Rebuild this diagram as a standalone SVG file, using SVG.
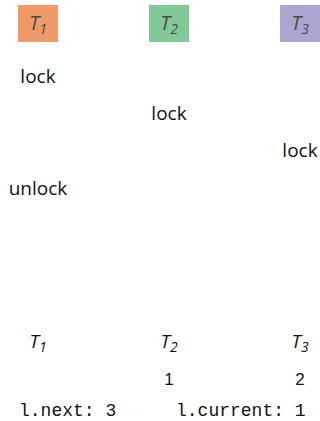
<svg xmlns="http://www.w3.org/2000/svg" width="320" height="421" viewBox="0 0 320 421">
<style>
.lbl{font-family:"Open Sans","DejaVu Sans",sans-serif;font-size:19px;fill:#111;text-anchor:middle}
.tt{font-family:"Open Sans","DejaVu Sans",sans-serif;font-style:italic;font-size:20px;fill:#4a4a4a;text-anchor:middle}
.tb{font-family:"Open Sans","DejaVu Sans",sans-serif;font-style:italic;font-size:19px;fill:#111;text-anchor:middle}
.sub{font-size:14px}
.num{font-family:"Liberation Sans",Arial,sans-serif;font-size:17px;fill:#111;text-anchor:middle}
.mono{font-family:"Liberation Mono","Courier New",monospace;font-size:18px;fill:#111}
</style>
<g id="T1">
<rect x="18" y="5" width="40" height="37" fill="#F0996B"/>
<text class="tt" x="38" y="30">T<tspan class="sub" dy="4">1</tspan></text>
</g>
<g id="T2">
<rect x="149" y="5" width="40" height="37" fill="#83C897"/>
<text class="tt" x="169" y="30">T<tspan class="sub" dy="4">2</tspan></text>
</g>
<g id="T3">
<rect x="280" y="5" width="40" height="37" fill="#ACA4D1"/>
<text class="tt" x="300" y="30">T<tspan class="sub" dy="4">3</tspan></text>
</g>
<g id="ops">
<text class="lbl" x="38" y="83">lock</text>
<text class="lbl" x="169" y="120">lock</text>
<text class="lbl" x="300" y="157">lock</text>
<text class="lbl" x="38" y="195">unlock</text>
</g>
<g id="state">
<text class="tb" x="38" y="348">T<tspan class="sub" dy="4">1</tspan></text>
<text class="tb" x="169" y="348">T<tspan class="sub" dy="4">2</tspan></text>
<text class="tb" x="300" y="348">T<tspan class="sub" dy="4">3</tspan></text>
<text class="num" x="169" y="385">1</text>
<text class="num" x="300" y="385">2</text>
<text class="mono" x="19" y="416">l.next: 3</text>
<text class="mono" x="176" y="416">l.current: 1</text>
</g>
<g id="connectors"/>
</svg>
